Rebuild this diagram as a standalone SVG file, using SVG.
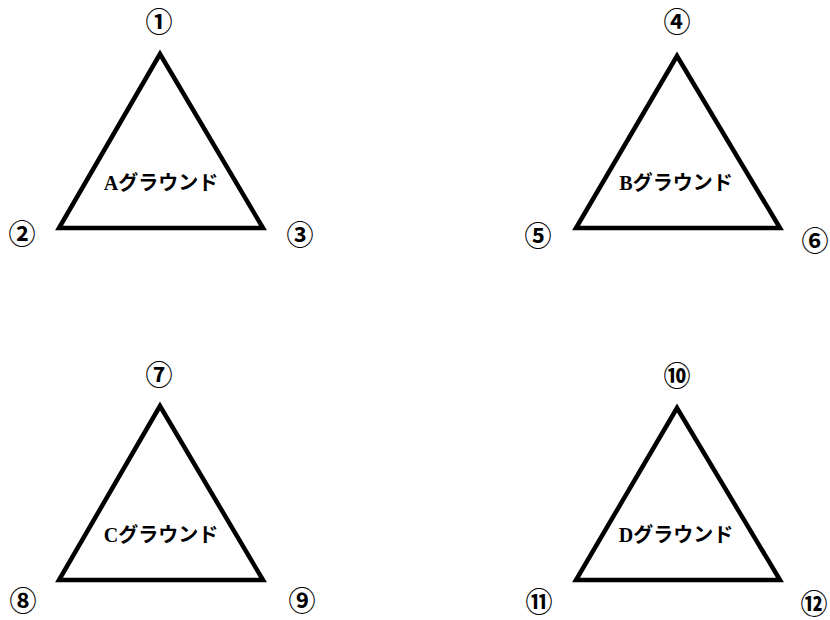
<svg xmlns="http://www.w3.org/2000/svg" width="830" height="620" viewBox="0 0 830 620">
<style>
.tri{fill:#fff;stroke:#000;stroke-width:4.5;stroke-linejoin:miter}
.lbl{font-family:"Liberation Serif","Noto Sans CJK JP",serif;font-weight:bold;font-size:20px;text-anchor:middle;fill:#000}
.num{font-family:"Noto Sans CJK JP","DejaVu Sans",sans-serif;font-weight:bold;font-size:27px;text-anchor:middle;dominant-baseline:central;fill:#000}
</style>
<rect width="830" height="620" fill="#fff"/>
<g id="groundA">
<polygon class="tri" points="160,54 59,228 263,228"/>
<text class="lbl" x="161" y="190">Aグラウンド</text>
</g>
<g id="groundB">
<polygon class="tri" points="677,56 576,228 780,228"/>
<text class="lbl" x="676" y="190">Bグラウンド</text>
</g>
<g id="groundC">
<polygon class="tri" points="160,406 59,580 263,580"/>
<text class="lbl" x="161" y="542">Cグラウンド</text>
</g>
<g id="groundD">
<polygon class="tri" points="677,408 576,580 780,580"/>
<text class="lbl" x="676" y="542">Dグラウンド</text>
</g>
<g id="labels">
<text class="num" x="159" y="20">①</text>
<text class="num" x="22" y="232">②</text>
<text class="num" x="300" y="233">③</text>
<text class="num" x="677" y="20">④</text>
<text class="num" x="538" y="234">⑤</text>
<text class="num" x="815" y="239">⑥</text>
<text class="num" x="159" y="373">⑦</text>
<text class="num" x="23" y="599">⑧</text>
<text class="num" x="302" y="599">⑨</text>
<text class="num" x="677" y="374">⑩</text>
<text class="num" x="539" y="600">⑪</text>
<text class="num" x="814" y="602">⑫</text>
</g>
</svg>
